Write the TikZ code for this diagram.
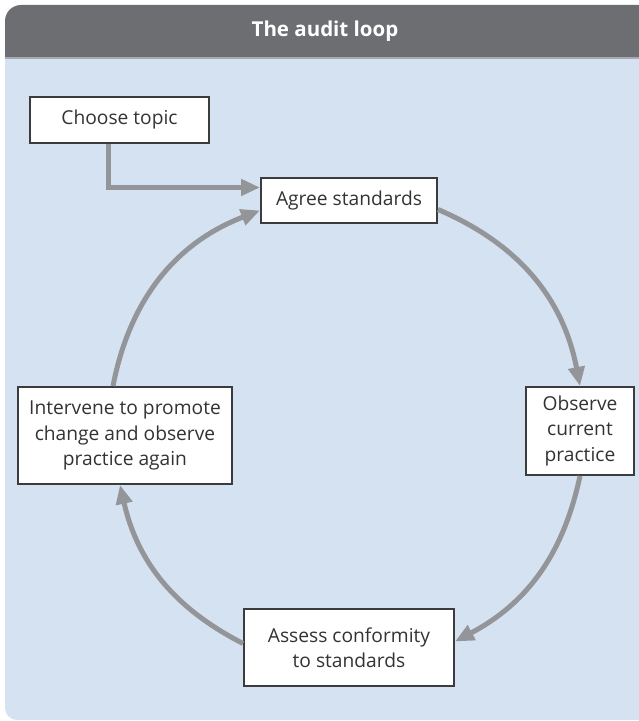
\documentclass[tikz,border=0pt]{standalone}
\usepackage{fontspec}
\setmainfont{Open Sans}
\usetikzlibrary{arrows.meta}
\definecolor{hdr}{HTML}{6D6E71}
\definecolor{bodyblue}{HTML}{D5E2F1}
\definecolor{arrgray}{HTML}{939598}
\definecolor{boxline}{HTML}{3C3C3E}
\definecolor{txt}{HTML}{333335}
\tikzset{
  box/.style={draw=boxline, line width=2pt, fill=white, inner sep=0pt, align=center,
    text=txt, font=\fontsize{19.2}{25.5}\selectfont},
  arr/.style={draw=arrgray, line width=5pt, -{Triangle[length=19pt,width=16pt]}}
}
\begin{document}
\begin{tikzpicture}[x=1pt,y=1pt]
\useasboundingbox (0,0) rectangle (638,721);
% panel
\fill[bodyblue] (660,1) -- (17,1) arc[start angle=270,end angle=180,radius=12] -- (5,663) -- (660,663) -- cycle;
\fill[hdr] (660,663) -- (5,663) -- (5,700) arc[start angle=180,end angle=90,radius=16] -- (660,716) -- cycle;
\draw[line width=1.5pt, draw=arrgray!80] (5,663) -- (660,663);
\node[text=white, font=\fontsize{20.5}{24}\selectfont\bfseries] (title) at (325,690) {The audit loop};
% boxes
\node[box, minimum width=179pt, minimum height=46pt] (choose) at (119.5,601) {Choose topic};
\node[box, minimum width=176pt, minimum height=45pt] (agree) at (349,520.5) {Agree standards};
\node[box, minimum width=108pt, minimum height=88pt] (observe) at (580,290) {Observe\\current\\practice};
\node[box, minimum width=210pt, minimum height=77pt] (assess) at (349,73.5) {Assess conformity\\to standards};
\node[box, minimum width=214pt, minimum height=97pt] (intervene) at (125,285.5) {Intervene to promote\\change and observe\\practice again};
% connectors
\draw[arr] ([xshift=-11.5pt]choose.south) |- ([yshift=13pt]agree.west);
\draw[arr] ([yshift=-9pt]agree.east) to[bend left=28] (observe.north);
\draw[arr] (observe.south) to[bend left=25] ([yshift=6pt]assess.east);
\draw[arr] ([yshift=4pt]assess.west) to[bend left=25] ([xshift=-5pt]intervene.south);
\draw[arr] ([xshift=-12pt]intervene.north) to[bend left=29] ([yshift=-10pt]agree.west);
\end{tikzpicture}
\end{document}
